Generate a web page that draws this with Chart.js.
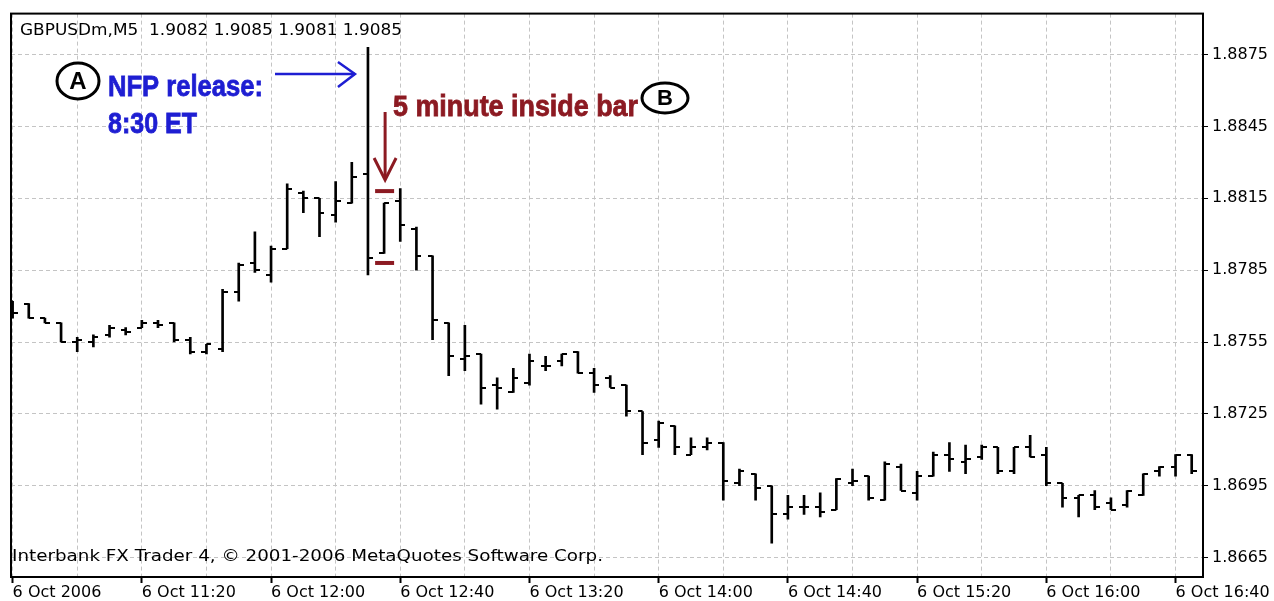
<!DOCTYPE html>
<html>
<head>
<meta charset="utf-8">
<script src="https://cdn.jsdelivr.net/npm/chart.js@4.4.1/dist/chart.umd.min.js"></script>
<style>
  html, body { margin: 0; padding: 0; background: #fff; }
  #wrap { width: 1274px; height: 601px; position: relative; }
</style>
</head>
<body>
<div id="wrap"><canvas id="chart"></canvas></div>
<script>
// GBPUSD M5 bars, 6 Oct 2006
const barTimes = [
  '10:40','10:45','10:50','10:55','11:00','11:05','11:10','11:15','11:20','11:25','11:30','11:35',
  '11:40','11:45','11:50','11:55','12:00','12:05','12:10','12:15','12:20','12:25','12:30','12:35',
  '12:40','12:45','12:50','12:55','13:00','13:05','13:10','13:15','13:20','13:25','13:30','13:35',
  '13:40','13:45','13:50','13:55','14:00','14:05','14:10','14:15','14:20','14:25','14:30','14:35',
  '14:40','14:45','14:50','14:55','15:00','15:05','15:10','15:15','15:20','15:25','15:30','15:35',
  '15:40','15:45','15:50','15:55','16:00','16:05','16:10','16:15','16:20','16:25','16:30','16:35',
  '16:40','16:45'
];
const opens = [
  1.8772,1.8771,1.8765,1.8763,1.8755,1.8755,1.8758,1.8760,1.8761,1.8763,1.8763,1.8756,
  1.8751,1.8752,1.8776,1.8788,1.8783,1.8794,1.8817,1.8815,1.8808,1.8813,1.8825,1.8792,
  1.8814,1.8802,1.8791,1.8763,1.8748,1.8750,1.8737,1.8734,1.8738,1.8745,1.8747,1.8751,
  1.8742,1.8740,1.8737,1.8726,1.8714,1.8720,1.8708,1.8711,1.8713,1.8696,1.8700,1.8695,
  1.8683,1.8686,1.8686,1.8685,1.8696,1.8699,1.8689,1.8703,1.8692,1.8699,1.8708,1.8705,
  1.8707,1.8711,1.8701,1.8711,1.8708,1.8696,1.8690,1.8691,1.8688,1.8687,1.8691,1.8701,
  1.8703,1.8708
];
const highs = [
  1.8772,1.8771,1.8765,1.8763,1.8757,1.8758,1.8762,1.8761,1.8764,1.8764,1.8763,1.8757,
  1.8754,1.8777,1.8788,1.8801,1.8795,1.8821,1.8818,1.8815,1.8822,1.8830,1.8878,1.8813,
  1.8819,1.8803,1.8791,1.8763,1.8762,1.8750,1.8740,1.8744,1.8750,1.8749,1.8750,1.8751,
  1.8744,1.8741,1.8737,1.8726,1.8722,1.8720,1.8715,1.8715,1.8713,1.8702,1.8700,1.8695,
  1.8691,1.8691,1.8692,1.8698,1.8702,1.8699,1.8705,1.8704,1.8701,1.8709,1.8713,1.8712,
  1.8712,1.8711,1.8711,1.8716,1.8711,1.8696,1.8691,1.8693,1.8690,1.8693,1.8700,1.8703,
  1.8708,1.8708
];
const lows = [
  1.8765,1.8765,1.8763,1.8755,1.8751,1.8753,1.8757,1.8758,1.8761,1.8761,1.8755,1.8750,
  1.8750,1.8751,1.8772,1.8784,1.8780,1.8794,1.8809,1.8799,1.8805,1.8813,1.8783,1.8792,
  1.8797,1.8785,1.8756,1.8741,1.8743,1.8729,1.8727,1.8734,1.8737,1.8743,1.8745,1.8742,
  1.8734,1.8736,1.8724,1.8708,1.8711,1.8708,1.8708,1.8710,1.8689,1.8695,1.8689,1.8671,
  1.8681,1.8683,1.8682,1.8685,1.8695,1.8689,1.8689,1.8693,1.8689,1.8699,1.8701,1.8700,
  1.8706,1.8700,1.8700,1.8707,1.8695,1.8686,1.8682,1.8685,1.8685,1.8686,1.8691,1.8699,
  1.8699,1.8700
];
const closes = [
  1.8767,1.8765,1.8763,1.8755,1.8756,1.8757,1.8761,1.8759,1.8763,1.8762,1.8756,1.8751,
  1.8754,1.8776,1.8787,1.8785,1.8794,1.8819,1.8815,1.8809,1.8814,1.8824,1.8790,1.8813,
  1.8804,1.8791,1.8764,1.8749,1.8749,1.8736,1.8736,1.8740,1.8747,1.8745,1.8750,1.8742,
  1.8737,1.8736,1.8726,1.8713,1.8721,1.8711,1.8711,1.8713,1.8697,1.8701,1.8694,1.8683,
  1.8686,1.8686,1.8684,1.8698,1.8697,1.8690,1.8704,1.8693,1.8699,1.8708,1.8706,1.8706,
  1.8711,1.8701,1.8711,1.8707,1.8696,1.8690,1.8691,1.8686,1.8685,1.8693,1.8700,1.8703,
  1.8708,1.8701
];
const yTicks = [1.8665, 1.8695, 1.8725, 1.8755, 1.8785, 1.8815, 1.8845, 1.8875];
const xTickLabels = ['6 Oct 2006', '6 Oct 11:20', '6 Oct 12:00', '6 Oct 12:40', '6 Oct 13:20',
  '6 Oct 14:00', '6 Oct 14:40', '6 Oct 15:20', '6 Oct 16:00', '6 Oct 16:40'];
const nfpBar = 22;          // 12:30 = 8:30 ET
const insideBar = 23;
const insideMarks = [1.8818, 1.8788];

const axisFont = { family: '"DejaVu Sans", Tahoma, sans-serif', size: 16 };
const gridColor = '#c4c4c4';

// little open/close tick images used as point styles
function tickImage(side) {
  const len = 4, th = 2;
  const c = document.createElement('canvas');
  c.width = len * 2 + 2;
  c.height = th;
  const g = c.getContext('2d');
  g.fillStyle = '#000';
  if (side === 'left') g.fillRect(0, 0, len + 1, th);
  else g.fillRect(len + 1, 0, len + 1, th);
  return c;
}

function fitText(ctx, text, x, y, w, font, color, baseline, heavy) {
  ctx.save();
  ctx.font = font;
  const m = ctx.measureText(text).width;
  ctx.translate(x, y);
  ctx.scale(w / m, 1);
  ctx.fillStyle = color;
  ctx.textBaseline = baseline || 'alphabetic';
  ctx.textAlign = 'left';
  ctx.fillText(text, 0, 0);
  if (heavy) {
    ctx.strokeStyle = color;
    ctx.lineWidth = heavy;
    ctx.strokeText(text, 0, 0);
  }
  ctx.restore();
}

function line(ctx, pts, color, width) {
  ctx.save();
  ctx.strokeStyle = color;
  ctx.lineWidth = width;
  ctx.lineJoin = 'miter';
  ctx.beginPath();
  ctx.moveTo(pts[0][0], pts[0][1]);
  for (let i = 1; i < pts.length; i++) ctx.lineTo(pts[i][0], pts[i][1]);
  ctx.stroke();
  ctx.restore();
}

function circledLetter(ctx, cx, cy, rx, ry, letter, size) {
  ctx.save();
  ctx.strokeStyle = '#000';
  ctx.lineWidth = 3;
  ctx.fillStyle = '#fff';
  ctx.beginPath();
  ctx.ellipse(cx, cy, rx, ry, 0, 0, Math.PI * 2);
  ctx.fill();
  ctx.stroke();
  ctx.fillStyle = '#000';
  ctx.font = 'bold ' + size + 'px "Liberation Sans", Arial, sans-serif';
  ctx.textAlign = 'center';
  ctx.textBaseline = 'middle';
  ctx.fillText(letter, cx, cy + 1);
  ctx.restore();
}

const overlay = {
  id: 'overlay',
  afterDatasetsDraw(chart) {
    const { ctx, chartArea: a, scales: { x, y } } = chart;
    ctx.save();
    // frame
    ctx.strokeStyle = '#000';
    ctx.lineWidth = 2;
    ctx.strokeRect(a.left, a.top, a.right - a.left, a.bottom - a.top);
    ctx.restore();

    // header / footer text
    const plain = axisFont.size + 'px ' + axisFont.family;
    fitText(ctx, 'GBPUSDm,M5  1.9082 1.9085 1.9081 1.9085', 20, 31, 382, plain, '#000', 'middle');
    fitText(ctx, 'Interbank FX Trader 4, \u00a9 2001-2006 MetaQuotes Software Corp.', 12, 557, 591, plain, '#000', 'middle');

    const bold = 'bold 30px "Liberation Sans Narrow", "Liberation Sans", Arial, sans-serif';
    const blue = '#1e1ed2';
    const red = '#8c1a22';

    // A: NFP release
    circledLetter(ctx, 78, 81, 21, 18, 'A', 24);
    fitText(ctx, 'NFP release:', 108, 96, 155, bold, blue, null, 0.8);
    fitText(ctx, '8:30 ET', 108, 133, 89, bold, blue, null, 0.8);
    const nx = x.getPixelForValue(nfpBar);
    line(ctx, [[275, 74], [nx - 13, 74]], blue, 2.5);
    line(ctx, [[nx - 30, 62], [nx - 13, 74], [nx - 30, 87]], blue, 2.5);

    // B: inside bar
    const ix = x.getPixelForValue(insideBar);
    fitText(ctx, '5 minute inside bar', 393, 116, 245, bold, red, null, 0.8);
    circledLetter(ctx, 665, 98, 23, 15, 'B', 22);
    line(ctx, [[ix + 1, 112], [ix + 1, 178]], red, 3);
    line(ctx, [[ix - 10, 158], [ix + 1, 180], [ix + 12, 158]], red, 3);
    insideMarks.forEach(v => {
      const py = y.getPixelForValue(v);
      line(ctx, [[ix - 9, py], [ix + 10, py]], red, 4);
    });
  }
};

const barData = highs.map((h, i) => ({ x: i, y: [lows[i], h] }));
const openData = opens.map((v, i) => ({ x: i, y: v }));
const closeData = closes.map((v, i) => ({ x: i, y: v }));
const gridBars = barTimes.map((t, i) => i).filter(i => i % 4 === 0);

new Chart(document.getElementById('chart'), {
  type: 'bar',
  data: {
    datasets: [
      { type: 'bar', data: barData, backgroundColor: '#000', borderWidth: 0, barThickness: 2 },
      { type: 'line', data: openData, showLine: false, pointStyle: tickImage('left'), pointRadius: 3 },
      { type: 'line', data: closeData, showLine: false, pointStyle: tickImage('right'), pointRadius: 3 }
    ]
  },
  options: {
    responsive: true,
    maintainAspectRatio: false,
    animation: false,
    events: [],
    layout: { padding: { left: 11, top: 13, right: 0, bottom: 0 } },
    plugins: { legend: { display: false }, tooltip: { enabled: false } },
    scales: {
      x: {
        type: 'linear',
        offset: false,
        min: -0.1,
        max: 73.7,
        afterBuildTicks: axis => { axis.ticks = gridBars.map(v => ({ value: v })); },
        afterFit: axis => { axis.height = 24; },
        grid: {
          offset: false,
          color: gridColor,
          lineWidth: 1,
          tickLength: 6,
          tickWidth: 2,
          tickColor: c => (c.index % 2 === 0 ? '#000' : 'rgba(0,0,0,0)')
        },
        border: { display: false, dash: [4, 3] },
        ticks: {
          autoSkip: false,
          maxRotation: 0,
          minRotation: 0,
          align: 'start',
          padding: 0,
          color: '#000',
          font: axisFont,
          callback: v => (v % 8 === 0 ? xTickLabels[v / 8] : '')
        }
      },
      y: {
        position: 'right',
        min: 1.86569,
        max: 1.88921,
        afterBuildTicks: axis => { axis.ticks = yTicks.map(v => ({ value: v })); },
        afterFit: axis => { axis.width = 71; },
        grid: { color: gridColor, lineWidth: 1, tickLength: 5, tickWidth: 1, tickColor: '#000' },
        border: { display: false, dash: [4, 3] },
        ticks: { color: '#000', font: axisFont, padding: 4, callback: v => v.toFixed(4) }
      }
    }
  },
  plugins: [overlay]
});
</script>
</body>
</html>
